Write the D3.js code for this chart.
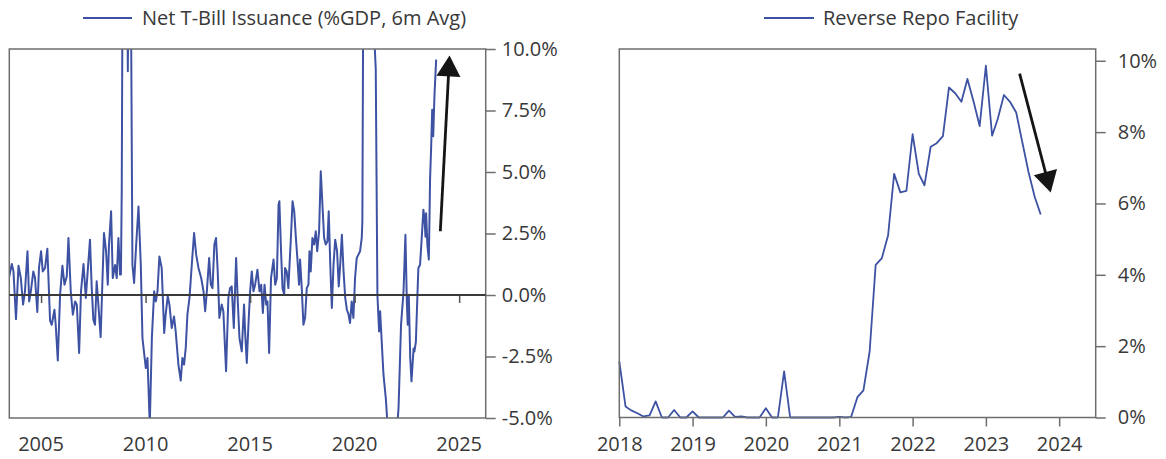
<!DOCTYPE html>
<html>
<head>
<meta charset="utf-8">
<script src="https://cdn.jsdelivr.net/npm/d3@7"></script>
<style>
  html, body { margin: 0; padding: 0; background: #fff; }
  svg text { font-family: "Open Sans", Lato, sans-serif; fill: #383838; }
</style>
</head>
<body>
<svg id="chart" width="1166" height="459"></svg>
<script>
// ---------------- DATA ----------------
// Left panel: Net T-Bill Issuance (%GDP, 6m Avg), x = decimal year
const tbillDates = [
  2003.48,2003.60,2003.68,2003.80,2003.92,2004.03,2004.14,2004.23,2004.35,2004.43,
  2004.51,2004.63,2004.71,2004.82,2004.90,2005.00,2005.08,2005.19,2005.30,2005.43,
  2005.51,2005.64,2005.70,2005.80,2005.91,2006.02,2006.12,2006.23,2006.31,2006.42,
  2006.52,2006.63,2006.71,2006.82,2006.91,2007.03,2007.14,2007.23,2007.34,2007.42,
  2007.50,2007.58,2007.66,2007.74,2007.85,2007.93,2008.01,2008.11,2008.19,2008.25,
  2008.35,2008.43,2008.54,2008.62,2008.70,2008.78,2008.82,2008.86,2008.92,2009.02,
  2009.12,2009.15,2009.21,2009.30,2009.37,2009.45,2009.55,2009.66,2009.77,2009.85,
  2009.93,2010.01,2010.09,2010.20,2010.30,2010.41,2010.49,2010.57,2010.66,2010.77,
  2010.89,2010.96,2011.06,2011.14,2011.25,2011.36,2011.44,2011.57,2011.68,2011.76,
  2011.84,2011.92,2012.00,2012.10,2012.21,2012.32,2012.42,2012.53,2012.66,2012.77,
  2012.85,2012.93,2013.04,2013.12,2013.20,2013.29,2013.37,2013.45,2013.53,2013.64,
  2013.72,2013.85,2013.96,2014.04,2014.12,2014.22,2014.33,2014.41,2014.49,2014.60,
  2014.71,2014.76,2014.84,2014.92,2015.00,2015.08,2015.16,2015.24,2015.35,2015.45,
  2015.53,2015.61,2015.69,2015.77,2015.83,2015.91,2016.00,2016.12,2016.20,2016.28,
  2016.36,2016.40,2016.48,2016.55,2016.63,2016.67,2016.75,2016.83,2016.95,2017.03,
  2017.11,2017.19,2017.26,2017.34,2017.39,2017.47,2017.55,2017.63,2017.71,2017.79,
  2017.84,2017.90,2017.98,2018.06,2018.14,2018.21,2018.30,2018.38,2018.46,2018.54,
  2018.62,2018.70,2018.76,2018.84,2018.91,2018.99,2019.07,2019.16,2019.24,2019.31,
  2019.39,2019.47,2019.55,2019.63,2019.71,2019.78,2019.86,2019.94,2020.02,2020.10,
  2020.18,2020.26,2020.34,2020.37,2020.42,2020.50,2020.70,2020.90,2020.95,2021.01,
  2021.09,2021.17,2021.22,2021.27,2021.38,2021.49,2021.57,2021.80,2022.05,2022.10,
  2022.22,2022.34,2022.43,2022.50,2022.54,2022.59,2022.66,2022.72,2022.82,2022.86,
  2022.93,2023.01,2023.05,2023.13,2023.21,2023.29,2023.34,2023.39,2023.42,2023.48,
  2023.55,2023.61,2023.66,2023.71,2023.76,2023.82,2023.90
];
const tbillValues = [
  0.76,1.26,0.96,-0.98,1.19,0.69,-0.39,0.15,1.78,-0.26,
  0.15,0.96,0.69,-0.69,1.10,1.78,0.96,1.10,1.88,-1.04,
  -1.21,-0.60,-1.21,-2.66,0.01,1.19,0.42,0.76,2.32,0.15,
  -0.80,-0.26,-0.39,-2.36,0.15,1.26,-0.12,0.96,2.25,0.35,
  -1.00,-1.21,0.56,-0.39,-1.71,0.42,2.52,1.78,0.42,2.05,
  3.40,0.69,1.22,0.69,2.32,0.83,0.83,4.35,18.0,22.0,
  14.0,9.10,16.0,12.0,1.23,0.49,2.05,3.60,1.23,-1.75,
  -2.36,-2.97,-2.56,-5.30,-1.75,0.15,-0.26,0.15,1.57,1.10,
  -1.54,-0.80,-0.05,-0.39,-1.34,-0.87,-1.48,-2.83,-3.48,-2.56,
  -2.83,-2.15,-0.80,-0.12,1.23,2.52,1.64,1.10,0.69,0.15,
  -0.66,0.15,1.50,0.42,0.28,2.05,2.32,0.96,-0.93,-0.39,
  -0.66,-3.10,-0.12,0.28,0.35,-1.34,1.50,-0.26,-1.75,-2.29,
  -0.39,-1.48,-2.76,-1.20,0.15,0.96,0.15,0.42,1.03,0.15,
  0.42,-0.73,0.42,-0.39,-0.26,-2.36,0.69,1.44,0.42,0.69,
  3.67,3.81,1.78,0.28,0.01,1.10,0.96,0.28,2.32,3.81,
  3.40,2.32,1.50,0.42,1.44,0.28,-1.21,-0.93,0.28,0.42,
  1.78,0.96,2.32,2.05,2.59,1.78,2.59,5.03,3.67,2.32,
  2.05,2.18,3.40,1.10,-0.53,1.23,2.25,1.78,0.35,1.23,
  2.45,0.96,-0.12,-0.60,-0.80,-1.14,-0.26,-0.93,0.69,1.50,
  1.64,1.78,2.32,2.99,14.0,30.0,28.0,18.0,10.3,9.20,
  0.00,-1.48,-0.66,-1.48,-3.24,-4.19,-5.20,-8.00,-5.20,-4.60,
  -1.21,0.15,2.45,-0.39,-1.21,0.01,-2.57,-3.51,-2.17,-2.30,
  -1.90,0.15,1.10,1.23,2.32,3.47,3.12,2.37,3.32,2.03,
  1.44,4.76,5.99,7.53,6.45,8.14,9.57
];
const tbillXTicks = [2005, 2010, 2015, 2020, 2025];
const tbillYTicks = [-5, -2.5, 0, 2.5, 5, 7.5, 10];
const tbillLegend = "Net T-Bill Issuance (%GDP, 6m Avg)";
// arrow annotation (data units): tail -> tip
const tbillArrow = { x0: 2024.10, y0: 2.59, x1: 2024.54, y1: 9.74 };

// Right panel: Reverse Repo Facility (%), monthly
const rrpMonths = [
  "2018-01","2018-02","2018-03","2018-04","2018-05","2018-06","2018-07","2018-08","2018-09","2018-10","2018-11","2018-12",
  "2019-01","2019-02","2019-03","2019-04","2019-05","2019-06","2019-07","2019-08","2019-09","2019-10","2019-11","2019-12",
  "2020-01","2020-02","2020-03","2020-04","2020-05","2020-06","2020-07","2020-08","2020-09","2020-10","2020-11","2020-12",
  "2021-01","2021-02","2021-03","2021-04","2021-05","2021-06","2021-07","2021-08","2021-09","2021-10","2021-11","2021-12",
  "2022-01","2022-02","2022-03","2022-04","2022-05","2022-06","2022-07","2022-08","2022-09","2022-10","2022-11","2022-12",
  "2023-01","2023-02","2023-03","2023-04","2023-05","2023-06","2023-07","2023-08","2023-09","2023-10"
];
const rrpValues = [
  1.57,0.31,0.20,0.12,0.03,0.06,0.45,0.00,0.00,0.21,0.00,0.00,
  0.17,0.00,0.00,0.00,0.00,0.00,0.19,0.02,0.03,0.00,0.00,0.00,
  0.26,0.00,0.00,1.29,0.00,0.00,0.00,0.00,0.00,0.00,0.00,0.00,
  0.02,0.00,0.02,0.57,0.76,1.85,4.28,4.47,5.11,6.83,6.31,6.35,
  7.94,6.83,6.51,7.59,7.69,7.89,9.25,9.09,8.85,9.49,8.85,8.17,
  9.86,7.90,8.37,9.04,8.85,8.55,7.73,6.89,6.19,5.69
];
const rrpXTicks = ["2018","2019","2020","2021","2022","2023","2024"];
const rrpYTicks = [0, 2, 4, 6, 8, 10];
const rrpLegend = "Reverse Repo Facility";
const rrpArrow = { x0: "2023-06-18", y0: 9.64, x1: "2023-11-20", y1: 6.31 };

// ---------------- DRAW ----------------
const svg = d3.select("#chart");
const BLUE = "#3d52a3";
const FRAME = "#6e6e6e";
const FS = 20;
const FONT = "'Open Sans', Lato, sans-serif";
const TXT = "#383838";

function arrow(g, x0, y0, x1, y1) {
  const dx = x1 - x0, dy = y1 - y0, len = Math.hypot(dx, dy);
  const ux = dx / len, uy = dy / len, px = -uy, py = ux;
  const hl = 21, hw = 12;
  const bx = x1 - ux * hl, by = y1 - uy * hl;
  g.append("line").attr("x1", x0).attr("y1", y0).attr("x2", bx + ux * 2).attr("y2", by + uy * 2)
    .attr("stroke", "#151515").attr("stroke-width", 2.8);
  g.append("path")
    .attr("d", `M${x1},${y1}L${bx + px * hw},${by + py * hw}L${bx - px * hw},${by - py * hw}Z`)
    .attr("fill", "#151515");
}

// ---- Left panel ----
{
  const L = 9.3, R = 485.7, T = 49, B = 418;
  const x = d3.scaleLinear().domain([2003.48, 2026.27]).range([L, R]);
  const y = d3.scaleLinear().domain([-5, 10]).range([B, T]);
  const g = svg.append("g");

  g.append("clipPath").attr("id", "clipL").append("rect")
    .attr("x", L).attr("y", T).attr("width", R - L).attr("height", B - T);

  // legend
  g.append("line").attr("x1", 83).attr("x2", 132).attr("y1", 18).attr("y2", 18)
    .attr("stroke", BLUE).attr("stroke-width", 2.2);
  g.append("text").attr("x", 142).attr("y", 25).attr("font-size", FS).text(tbillLegend);

  const data = tbillDates.map((d, i) => [d, tbillValues[i]]);
  g.append("path").datum(data)
    .attr("clip-path", "url(#clipL)")
    .attr("fill", "none").attr("stroke", BLUE).attr("stroke-width", 2)
    .attr("stroke-linejoin", "round")
    .attr("d", d3.line().x(d => x(d[0])).y(d => y(d[1])));

  // frame
  g.append("rect").attr("x", L).attr("y", T).attr("width", R - L).attr("height", B - T)
    .attr("fill", "none").attr("stroke", FRAME).attr("stroke-width", 1.5);

  // zero line with x ticks
  const xAxis = d3.axisBottom(x).tickValues(tbillXTicks).tickSize(8).tickFormat("");
  const xa = g.append("g").attr("transform", `translate(0,${y(0)})`).call(xAxis);
  xa.select(".domain").remove();
  xa.selectAll(".tick line").attr("stroke", "#555").attr("stroke-width", 1.5);
  g.append("line").attr("x1", L).attr("x2", R).attr("y1", y(0)).attr("y2", y(0))
    .attr("stroke", "#3a3a3a").attr("stroke-width", 2.2);

  // x labels at bottom
  tbillXTicks.forEach(t => {
    g.append("text").attr("x", x(t)).attr("y", 451).attr("text-anchor", "middle")
      .attr("font-size", FS).text(t);
  });

  // right y axis
  const yAxis = d3.axisRight(y).tickValues(tbillYTicks).tickSize(10).tickPadding(6)
    .tickFormat(d => d.toFixed(1) + "%");
  const ya = g.append("g").attr("transform", `translate(${R},0)`).call(yAxis);
  ya.select(".domain").remove();
  ya.selectAll(".tick line").attr("stroke", FRAME).attr("stroke-width", 1.5);
  ya.selectAll(".tick text").attr("font-size", FS).attr("font-family", FONT).attr("fill", TXT);

  arrow(g, x(tbillArrow.x0), y(tbillArrow.y0), x(tbillArrow.x1), y(tbillArrow.y1));
}

// ---- Right panel ----
{
  const L = 619.3, R = 1095.7, T = 49, B = 417.5;
  const parse = d3.timeParse("%Y-%m");
  const parseD = d3.timeParse("%Y-%m-%d");
  const x = d3.scaleTime().domain([parse("2018-01"), parse("2024-07")]).range([L, R]);
  const y = d3.scaleLinear().domain([0, 10.33]).range([B, T]);
  const g = svg.append("g");

  g.append("line").attr("x1", 764).attr("x2", 814).attr("y1", 18).attr("y2", 18)
    .attr("stroke", BLUE).attr("stroke-width", 2.2);
  g.append("text").attr("x", 823).attr("y", 25).attr("font-size", FS).text(rrpLegend);

  const data = rrpMonths.map((m, i) => [parse(m), rrpValues[i]]);
  g.append("path").datum(data)
    .attr("fill", "none").attr("stroke", BLUE).attr("stroke-width", 1.8)
    .attr("stroke-linejoin", "round")
    .attr("d", d3.line().x(d => x(d[0])).y(d => y(d[1])));

  g.append("rect").attr("x", L).attr("y", T).attr("width", R - L).attr("height", B - T)
    .attr("fill", "none").attr("stroke", FRAME).attr("stroke-width", 1.5);

  const xAxis = d3.axisBottom(x).tickValues(rrpXTicks.map(s => parse(s + "-01")))
    .tickSize(9).tickPadding(10).tickFormat(d3.timeFormat("%Y"));
  const xa = g.append("g").attr("transform", `translate(0,${B})`).call(xAxis);
  xa.select(".domain").remove();
  xa.selectAll(".tick line").attr("stroke", FRAME).attr("stroke-width", 1.5);
  xa.selectAll(".tick text").attr("font-size", FS).attr("font-family", FONT)
    .attr("fill", TXT).attr("dy", null).attr("y", 33.5);

  const yAxis = d3.axisRight(y).tickValues(rrpYTicks).tickSize(10).tickPadding(12)
    .tickFormat(d => d + "%");
  const ya = g.append("g").attr("transform", `translate(${R},0)`).call(yAxis);
  ya.select(".domain").remove();
  ya.selectAll(".tick line").attr("stroke", FRAME).attr("stroke-width", 1.5);
  ya.selectAll(".tick text").attr("font-size", FS).attr("font-family", FONT).attr("fill", TXT);

  arrow(g, x(parseD(rrpArrow.x0)), y(rrpArrow.y0), x(parseD(rrpArrow.x1)), y(rrpArrow.y1));
}
</script>
</body>
</html>
